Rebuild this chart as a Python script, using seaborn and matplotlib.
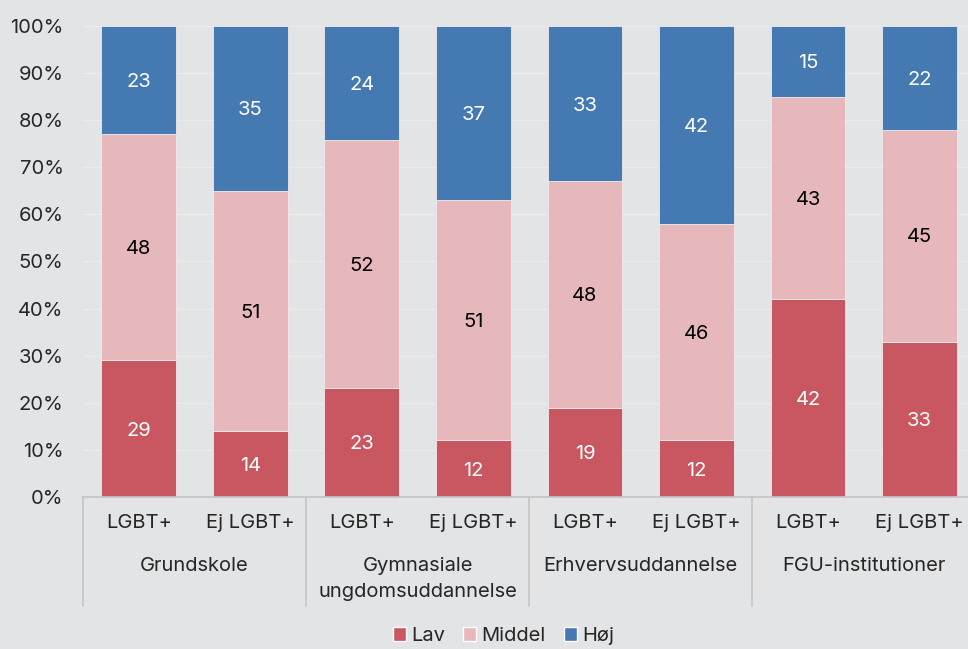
import matplotlib
matplotlib.use("Agg")
import matplotlib.pyplot as plt
from matplotlib.lines import Line2D
from matplotlib.patches import Patch
import matplotlib.transforms as mtransforms
import seaborn as sns
import numpy as np
import pandas as pd

groups = ["Grundskole", "Gymnasiale\nungdomsuddannelse", "Erhvervsuddannelse", "FGU-institutioner"]
subgroups = ["LGBT+", "Ej LGBT+"]
lav = [29, 14, 23, 12, 19, 12, 42, 33]
middel = [48, 51, 52, 51, 48, 46, 43, 45]
hoj = [23, 35, 24, 37, 33, 42, 15, 22]

colors = {"Lav": "#c85762", "Middel": "#e6b8bb", "Høj": "#4479b1"}
bg = "#e3e4e6"

sns.set_theme(style="white")
plt.rcParams["font.family"] = ["Inter", "DejaVu Sans"]

ids = [f"b{i}" for i in range(len(lav))]
tot = np.array(lav) + np.array(middel) + np.array(hoj)
df = pd.DataFrame({
    "id": ids,
    "Lav": np.array(lav) / tot * 100,
    "Middel": np.array(middel) / tot * 100,
    "Høj": np.array(hoj) / tot * 100,
})

fig = plt.figure(figsize=(9.68, 6.49), dpi=100, facecolor=bg)
ax = fig.add_axes([0.0857, 0.2342, 0.922, 0.7258], facecolor=bg)

bottom = np.zeros(len(ids))
raw = {"Lav": lav, "Middel": middel, "Høj": hoj}
for name in ["Lav", "Middel", "Høj"]:
    sns.barplot(data=df, x="id", y=name, order=ids, color=colors[name], width=0.67,
                bottom=bottom, saturation=1, edgecolor="#f0eaea", linewidth=0.6, ax=ax)
    txtcol = "black" if name == "Middel" else "white"
    for i, (b, h) in enumerate(zip(bottom, df[name])):
        ax.text(i, b + h / 2 - 0.4, str(raw[name][i]), ha="center", va="center",
                color=txtcol, fontsize=14.5)
    bottom = bottom + df[name].values

ax.set_xlim(-0.5, 7.5)
ax.set_ylim(0, 100)
ax.set_yticks(range(0, 101, 10))
ax.set_yticklabels([f"{v}%" for v in range(0, 101, 10)], fontsize=14.5)
ax.yaxis.grid(True, color="#ececed", linewidth=1)
ax.set_axisbelow(True)
ax.set_xticks(range(8))
ax.set_xticklabels(subgroups * 4, fontsize=14.5)
ax.tick_params(axis="both", length=0)
ax.tick_params(axis="y", pad=14)
ax.tick_params(axis="x", pad=12)
ax.set_xlabel("")
ax.set_ylabel("")
for s in ["top", "right", "left"]:
    ax.spines[s].set_visible(False)
ax.spines["bottom"].set_color("#c4c4c4")
ax.spines["bottom"].set_linewidth(1.2)

trans = mtransforms.blended_transform_factory(ax.transData, ax.transAxes)
for g, name in enumerate(groups):
    ax.text(2 * g + 0.5, -0.127, name, ha="center", va="top", fontsize=14.5,
            transform=trans, linespacing=1.6)
for g in range(4):
    ax.add_line(Line2D([2 * g - 0.5, 2 * g - 0.5], [0, -0.232], transform=trans,
                       color="#c4c4c4", linewidth=1.2, clip_on=False))

handles = [Patch(facecolor=colors[n], label=n) for n in ["Lav", "Middel", "Høj"]]
fig.legend(handles=handles, loc="center", bbox_to_anchor=(0.52, 0.02), ncol=3,
           frameon=False, fontsize=14.5, handlelength=0.65, handleheight=0.65,
           handletextpad=0.25, columnspacing=0.9)

fig.savefig("out.png", dpi=100, facecolor=bg)
